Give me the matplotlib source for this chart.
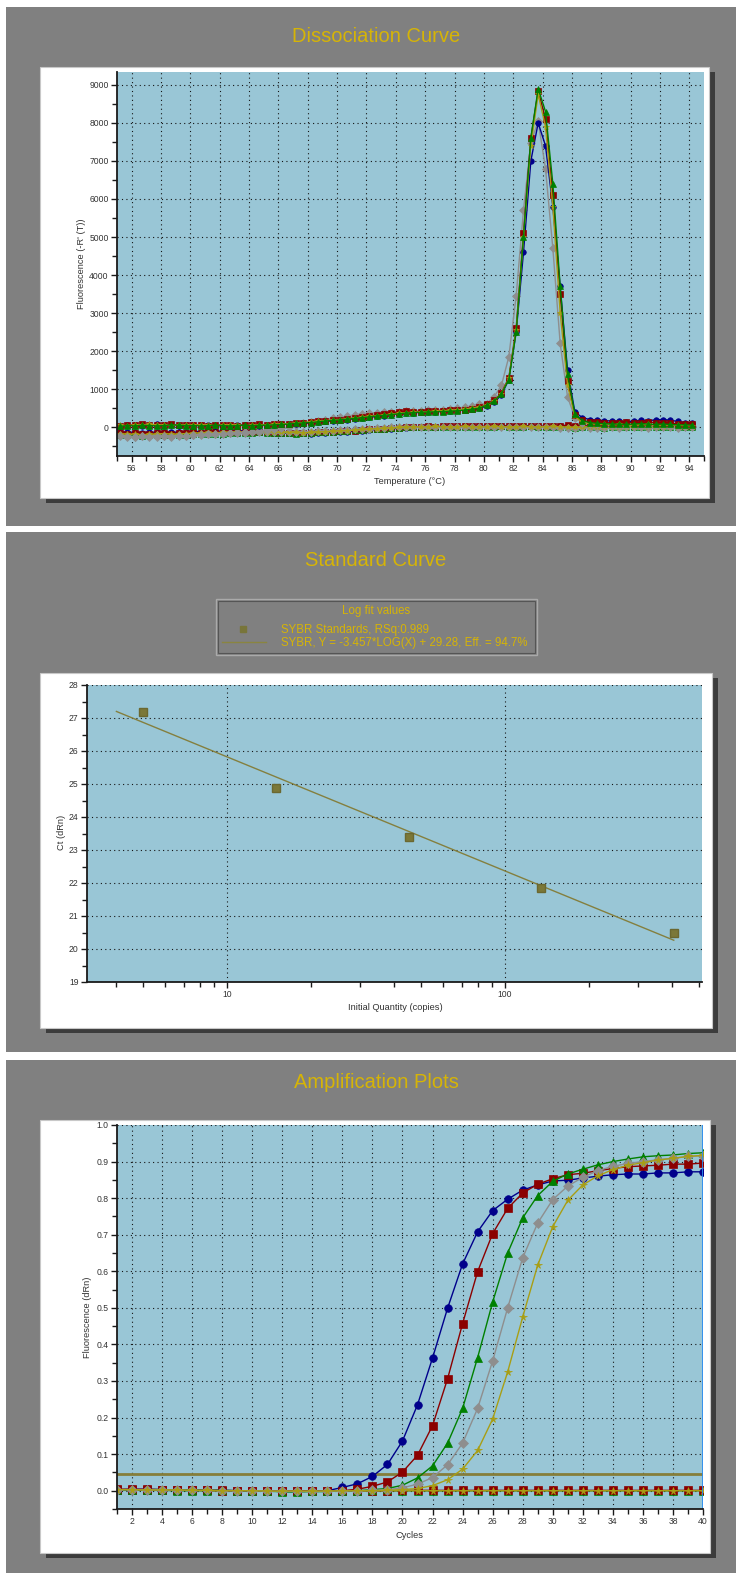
import numpy as np
import matplotlib
matplotlib.use("Agg")
import matplotlib.pyplot as plt
from matplotlib.patches import Rectangle
from matplotlib.lines import Line2D
from matplotlib.ticker import MultipleLocator, FixedLocator, FixedFormatter, LogLocator, NullFormatter

plt.rcParams['font.family'] = ['Liberation Sans', 'DejaVu Sans']

# ---- melt curve data (-R'(T)), one reading every 0.5 degC from 55.2 ----
temperature = np.arange(55.2, 94.3, 0.5)

melt_blue = [30, 50, 60, 40, 50, 70, 60, 50, 40, 50,
             50, 60, 50, 40, 30, 40, 50, 60, 50, 40,
             50, 60, 70, 80, 90, 100, 110, 130, 150, 170,
             190, 200, 220, 240, 260, 280, 300, 330, 350, 370,
             380, 390, 400, 410, 420, 430, 440, 450, 470, 500,
             550, 650, 850, 1250, 2500, 4600, 7000, 8000, 7400, 5800,
             3700, 1500, 400, 250, 200,
             180, 170, 160, 150, 140, 160, 180, 170, 190, 200, 180, 150, 120, 100]
melt_red = [40, 60, 50, 70, 60, 50, 60, 70, 50, 60,
            60, 50, 40, 50, 60, 50, 40, 50, 60, 70,
            60, 70, 80, 90, 100, 110, 130, 150, 160, 180,
            200, 220, 240, 260, 290, 320, 350, 380, 400, 420,
            400, 410, 420, 430, 430, 440, 450, 460, 480, 520,
            600, 700, 900, 1300, 2600, 5100, 7600, 8850, 8100, 6100,
            3500, 1200, 320, 180, 140,
            130, 120, 110, 120, 130, 110, 120, 130, 120, 110, 100, 90, 80, 70]
melt_green = [20, 40, 30, 50, 40, 30, 40, 60, 50, 40,
              40, 30, 40, 50, 40, 30, 40, 50, 40, 50,
              50, 60, 70, 80, 100, 110, 120, 140, 160, 180,
              190, 210, 230, 250, 270, 290, 310, 330, 350, 370,
              380, 390, 400, 400, 410, 420, 430, 450, 470, 500,
              580, 680, 880, 1250, 2500, 5000, 7600, 8900, 8300, 6400,
              3700, 1400, 350, 170, 120,
              100, 90, 80, 80, 70, 80, 90, 80, 70, 80, 70, 60, 60, 50]
melt_gray = [-230, -250, -260, -240, -250, -260, -240, -250, -230, -240,
             -220, -200, -190, -180, -170, -160, -150, -140, -120, -100,
             -80, -60, -30, 0, 50, 100, 130, 160, 200, 230,
             260, 290, 320, 350, 370, 380, 390, 400, 410, 420,
             420, 430, 440, 450, 460, 480, 500, 520, 560, 600,
             620, 800, 1100, 1850, 3450, 5700, 7480, 8050, 6800, 4700,
             2200, 800, 250, 120, 80,
             70, 60, 60, 50, 60, 50, 40, 50, 60, 50, 40, 40, 30, 30]
melt_yellow = [50, 40, 60, 50, 70, 60, 50, 40, 60, 50,
               50, 60, 50, 40, 50, 60, 50, 40, 50, 60,
               60, 70, 80, 90, 110, 120, 140, 150, 170, 190,
               200, 220, 240, 260, 280, 300, 320, 340, 360, 380,
               390, 400, 410, 420, 430, 440, 450, 470, 490, 520,
               580, 690, 880, 1280, 2550, 5000, 7400, 8750, 7900, 5800,
               3000, 1100, 280, 130, 90,
               80, 70, 60, 70, 60, 50, 60, 70, 60, 50, 60, 50, 40, 40]

# no-template wells, flat
blank_blue = [-120, -140, -130, -150, -140, -130, -120, -140, -130, -120,
              -110, -120, -110, -100, -110, -100, -90, -100, -110, -100,
              -110, -120, -130, -140, -150, -160, -170, -160, -150, -140,
              -130, -120, -110, -100, -80, -60, -50, -40, -30, -20,
              -10, 0, 10, 0, 10, 20, 10, 20, 10, 20,
              10, 20, 30, 20, 10, 20, 30, 20, 10, 20,
              30, 20, 10, 0, -10, 0, 10, 20, 10, 0,
              10, 20, 10, 0, 10, 20, 10, 0, 10]
blank_red = [-150, -170, -160, -180, -170, -160, -150, -170, -160, -150,
             -140, -150, -140, -130, -140, -130, -120, -130, -140, -130,
             -140, -150, -150, -160, -150, -160, -150, -140, -130, -120,
             -110, -100, -90, -80, -60, -50, -40, -30, -20, -10,
             0, 10, 20, 10, 20, 30, 20, 30, 20, 30,
             20, 30, 40, 30, 20, 30, 40, 30, 20, 30,
             40, 50, 40, 30, 40, 50, 60, 50, 40, 50,
             60, 50, 40, 50, 60, 50, 40, 30, 40]
blank_green = [-200, -220, -210, -230, -220, -210, -200, -220, -210, -200,
               -190, -180, -170, -180, -170, -160, -150, -160, -150, -140,
               -150, -160, -150, -160, -170, -160, -150, -140, -130, -120,
               -100, -90, -80, -70, -60, -50, -40, -30, -20, -10,
               0, -10, 0, 10, 0, 10, 0, 10, 0, 10,
               0, 10, 20, 10, 0, 10, 20, 10, 0, 10,
               0, -10, -20, -10, 0, -10, -20, -10, 0, -10,
               0, 10, 0, -10, 0, 10, 0, -10, 0]
blank_gray = [-210, -230, -250, -240, -230, -220, -240, -230, -220, -240,
              -200, -190, -180, -170, -160, -150, -140, -150, -140, -130,
              -140, -130, -120, -130, -140, -130, -120, -110, -100, -90,
              -80, -70, -60, -50, -40, -30, -20, -10, 0, 10,
              0, 10, 0, -10, 0, 10, 0, -10, 0, 10,
              0, -10, 0, 10, 0, -10, 0, 10, 0, -10,
              -20, -30, -20, -10, -20, -30, -20, -10, -20, -10,
              0, -10, -20, -10, 0, -10, -20, -10, 0]
blank_yellow = [-170, -190, -180, -200, -190, -180, -170, -190, -180, -170,
                -160, -150, -140, -150, -140, -130, -120, -130, -120, -110,
                -120, -130, -140, -130, -140, -150, -140, -130, -120, -110,
                -100, -90, -80, -60, -50, -40, -30, -20, -10, 0,
                10, 0, 10, 20, 10, 0, 10, 20, 10, 0,
                10, 20, 10, 0, 10, 20, 10, 0, 10, 20,
                10, 0, -10, 0, 10, 0, -10, 0, 10, 0,
                -10, 0, 10, 0, -10, 0, 10, 0, -10]

# ---- standard curve ----
quantity = [5, 15, 45, 135, 405]
ct_values = [27.19, 24.89, 23.40, 21.84, 20.49]
fit_slope = -3.457
fit_intercept = 29.28
fit_range = [4, 405]
legend_title = "Log fit values"
legend_points = "SYBR Standards, RSq:0.989"
legend_fit = "SYBR, Y = -3.457*LOG(X) + 29.28, Eff. = 94.7%"

# ---- amplification (dRn per cycle) ----
cycles = np.arange(1, 41)
amp_blue = [0.003, 0.004, 0.004, 0.003, 0.002, 0.002, 0.001, 0.001, 0.000, 0.000,
            -0.001, -0.002, -0.002, -0.001, 0.000, 0.009, 0.019, 0.039, 0.072, 0.136,
            0.235, 0.363, 0.499, 0.620, 0.708, 0.766, 0.797, 0.822, 0.836, 0.847,
            0.849, 0.855, 0.860, 0.864, 0.866, 0.866, 0.869, 0.869, 0.872, 0.872]
amp_red = [0.004, 0.004, 0.004, 0.003, 0.002, 0.002, 0.001, 0.001, 0.000, 0.000,
           0.000, -0.001, -0.001, -0.001, -0.001, 0.000, 0.004, 0.012, 0.024, 0.051,
           0.097, 0.178, 0.306, 0.457, 0.599, 0.703, 0.772, 0.814, 0.838, 0.853,
           0.864, 0.868, 0.875, 0.881, 0.886, 0.888, 0.890, 0.893, 0.893, 0.896]
amp_green = [0.002, 0.002, 0.003, 0.003, 0.002, 0.002, 0.001, 0.001, 0.000, 0.000,
             -0.001, -0.003, -0.003, -0.002, -0.002, -0.001, 0.000, 0.003, 0.006, 0.015,
             0.035, 0.068, 0.130, 0.225, 0.364, 0.516, 0.650, 0.746, 0.807, 0.846,
             0.866, 0.879, 0.891, 0.900, 0.907, 0.913, 0.916, 0.918, 0.922, 0.924]
amp_gray = [0.002, 0.003, 0.003, 0.002, 0.002, 0.001, 0.001, 0.000, 0.000, 0.000,
            -0.001, -0.001, -0.002, -0.002, -0.001, -0.001, 0.000, 0.001, 0.003, 0.008,
            0.018, 0.036, 0.071, 0.130, 0.225, 0.355, 0.500, 0.637, 0.732, 0.796,
            0.833, 0.857, 0.875, 0.887, 0.895, 0.900, 0.905, 0.909, 0.914, 0.916]
amp_yellow = [0.003, 0.003, 0.002, 0.002, 0.002, 0.001, 0.001, 0.000, 0.000, 0.000,
              -0.001, -0.001, -0.001, -0.001, -0.001, 0.000, 0.000, 0.000, 0.001, 0.003,
              0.006, 0.014, 0.030, 0.059, 0.110, 0.196, 0.325, 0.475, 0.617, 0.722,
              0.794, 0.836, 0.861, 0.878, 0.890, 0.897, 0.904, 0.909, 0.914, 0.917]
ntc_red = [0.003, 0.002, 0.002, 0.002, 0.001, 0.001, 0.001, 0.000, 0.000, 0.000,
           0.000, -0.001, -0.001, -0.001, -0.001, -0.001, 0.000, 0.000, 0.000, 0.001,
           0.001, 0.001, 0.001, 0.001, 0.001, 0.001, 0.001, 0.001, 0.001, 0.001,
           0.001, 0.001, 0.001, 0.001, 0.001, 0.001, 0.001, 0.001, 0.001, 0.001]
ntc_green = [0.001, 0.001, 0.001, 0.001, 0.000, 0.000, 0.000, 0.000, 0.000, -0.001,
             -0.001, -0.002, -0.002, -0.002, -0.002, -0.001, -0.001, 0.000, 0.000, 0.000,
             0.000, 0.000, 0.000, 0.000, 0.000, 0.000, 0.000, 0.000, 0.000, 0.000,
             0.000, 0.000, 0.000, 0.000, 0.000, 0.000, 0.000, 0.000, 0.000, 0.000]
ntc_yellow = [0.002, 0.002, 0.001, 0.001, 0.001, 0.001, 0.000, 0.000, 0.000, 0.000,
              0.000, 0.000, -0.001, -0.001, 0.000, 0.000, 0.000, 0.000, 0.000, 0.000,
              0.000, 0.000, 0.000, 0.000, 0.000, 0.000, 0.000, 0.000, 0.000, 0.000,
              0.000, 0.000, 0.000, 0.000, 0.000, 0.000, 0.000, 0.000, 0.000, 0.000]
threshold = 0.046

# ---- colours ----
PANEL = '#808080'
SHADOW = '#3c3c3c'
PLOT_BG = '#99c6d6'
TITLE_COL = '#d6b406'
TEXT_COL = '#333333'
C_BLUE, C_RED, C_GREEN, C_GRAY, C_YEL = '#00008b', '#8b0000', '#008000', '#8e8e8e', '#a89e14'

W, H = 736, 1573
fig = plt.figure(figsize=(W / 100, H / 100), dpi=100)
fig.patch.set_facecolor('white')


def box(x0, y0, x1, y1):
    # pixel box measured from the top-left -> figure fraction rect
    return [x0 / W, 1 - y1 / H, (x1 - x0) / W, (y1 - y0) / H]


def rect(x0, y0, x1, y1, z=-10, **kw):
    l, b, w, h = box(x0, y0, x1, y1)
    fig.add_artist(Rectangle((l, b), w, h, transform=fig.transFigure, zorder=z, **kw))


def ftext(x, y, s, **kw):
    fig.text(x / W, 1 - y / H, s, **kw)


def panel(y0, y1, title, title_y, card):
    rect(6, y0, W, y1, facecolor=PANEL, edgecolor='none')
    cx0, cy0, cx1, cy1 = card
    rect(cx0 + 6, cy0 + 5, cx1 + 6, cy1 + 5, facecolor=SHADOW, edgecolor='none')
    rect(cx0, cy0, cx1, cy1, facecolor='white', edgecolor='#c8c8c8', linewidth=0.8)
    ftext(376, title_y, title, color=TITLE_COL, fontsize=14.5, ha='center', va='center')


def style_axes(ax):
    ax.set_facecolor(PLOT_BG)
    ax.set_axisbelow(True)
    for s in ('top', 'right'):
        ax.spines[s].set_visible(False)
    for s in ('left', 'bottom'):
        ax.spines[s].set_color('#1a1a1a')
        ax.spines[s].set_linewidth(1.3)
    ax.tick_params(which='both', direction='out', color='#1a1a1a', width=1,
                   labelsize=6.2, labelcolor=TEXT_COL, pad=2)
    ax.tick_params(which='major', length=4)
    ax.tick_params(which='minor', length=3.5)
    ax.grid(True, which='major', color='#151515', linestyle=(0, (1, 3)), linewidth=0.8)


panel(7, 526, 'Dissociation Curve', 36, (40, 67, 709, 498))
panel(532, 1052, 'Standard Curve', 561, (40, 673, 712, 1028))
panel(1060, H, 'Amplification Plots', 1083, (40, 1120, 710, 1553))

# ---- dissociation curve ----
ax1 = fig.add_axes(box(117, 72, 704, 456))
style_axes(ax1)
blanks = [(blank_blue, C_BLUE, 'o'), (blank_red, C_RED, 's'), (blank_green, C_GREEN, '^'),
          (blank_gray, C_GRAY, 'D'), (blank_yellow, C_YEL, '*')]
melts = [(melt_gray, C_GRAY, 'D'), (melt_blue, C_BLUE, 'o'), (melt_red, C_RED, 's'),
         (melt_yellow, C_YEL, '*'), (melt_green, C_GREEN, '^')]
for vals, col, mk in blanks + melts:
    ax1.plot(temperature, vals, color=col, marker=mk, markersize=4, linewidth=1,
             markeredgewidth=0.5)
ax1.set_xlim(55, 95)
ax1.set_ylim(-760, 9340)
ax1.xaxis.set_major_locator(FixedLocator(np.arange(56, 95, 2)))
ax1.xaxis.set_minor_locator(MultipleLocator(1))
ax1.yaxis.set_major_locator(FixedLocator(np.arange(0, 9001, 1000)))
ax1.yaxis.set_minor_locator(MultipleLocator(500))
ftext(82, 264, "Fluorescence (-R' (T))", rotation=90, fontsize=6.7, color=TEXT_COL,
      ha='center', va='center')
ftext(410, 482, 'Temperature (\u00b0C)', fontsize=6.7, color=TEXT_COL, ha='center', va='center')

# ---- standard curve ----
ax2 = fig.add_axes(box(87, 685, 702, 982))
style_axes(ax2)
ax2.set_xscale('log')
fit_x = np.array(fit_range, dtype=float)
ax2.plot(fit_x, fit_slope * np.log10(fit_x) + fit_intercept, color='#847f3e', linewidth=1)
ax2.plot(quantity, ct_values, linestyle='none', marker='s', markersize=5.5,
         color='#7b7838', markeredgecolor='#6b6830')
ax2.set_xlim(3.135, 511.7)
ax2.set_ylim(19, 28)
ax2.xaxis.set_major_locator(FixedLocator([10, 100]))
ax2.xaxis.set_major_formatter(FixedFormatter(['10', '100']))
ax2.xaxis.set_minor_locator(LogLocator(base=10, subs=np.arange(2, 10)))
ax2.xaxis.set_minor_formatter(NullFormatter())
ax2.yaxis.set_major_locator(MultipleLocator(1))
ax2.yaxis.set_minor_locator(MultipleLocator(0.5))
ftext(62, 832, 'Ct (dRn)', rotation=90, fontsize=6.7, color=TEXT_COL, ha='center', va='center')
ftext(395, 1008, 'Initial Quantity (copies)', fontsize=6.7, color=TEXT_COL,
      ha='center', va='center')

# legend box above the standard curve
rect(216, 599, 537, 655, facecolor=PANEL, edgecolor='#aaaaaa', linewidth=1, z=-5)
rect(218, 601, 535, 653, facecolor='none', edgecolor='#555555', linewidth=0.8, z=-4)
ftext(376, 611, legend_title, color=TITLE_COL, fontsize=8.3, ha='center', va='center')
fig.add_artist(Line2D([243 / W], [1 - 629 / H], marker='s', markersize=4.5, color='#78753a',
                      transform=fig.transFigure))
fig.add_artist(Line2D([222 / W, 266 / W], [1 - 642 / H, 1 - 642 / H], color='#8a8540',
                      linewidth=1, transform=fig.transFigure))
ftext(281, 630, legend_points, color=TITLE_COL, fontsize=8.3, ha='left', va='center')
ftext(281, 643, legend_fit, color=TITLE_COL, fontsize=8.3, ha='left', va='center')

# ---- amplification plots ----
ax3 = fig.add_axes(box(117, 1125, 703, 1509))
style_axes(ax3)
ax3.axhline(threshold, color='#857e3a', linewidth=2)
for vals, col, mk in [(ntc_green, C_GREEN, '^'), (ntc_red, C_RED, 's'), (ntc_yellow, C_YEL, '*')]:
    ax3.plot(cycles, vals, color=col, marker=mk, markersize=5.5, linewidth=1, markeredgewidth=0.5)
for vals, col, mk in [(amp_blue, '#00008b', 'o'), (amp_red, C_RED, 's'), (amp_green, C_GREEN, '^'),
                      (amp_gray, C_GRAY, 'D'), (amp_yellow, C_YEL, '*')]:
    ax3.plot(cycles, vals, color=col, marker=mk, markersize=5.5, linewidth=1, markeredgewidth=0.5)
ax3.axvline(40, color='#2a8cf0', linewidth=2)
ax3.set_xlim(1, 40)
ax3.set_ylim(-0.05, 1.0)
ax3.xaxis.set_major_locator(FixedLocator(np.arange(2, 41, 2)))
ax3.xaxis.set_minor_locator(MultipleLocator(1))
ax3.yaxis.set_major_locator(FixedLocator(np.round(np.arange(0, 1.01, 0.1), 1)))
ax3.yaxis.set_major_formatter(plt.FormatStrFormatter('%.1f'))
ax3.yaxis.set_minor_locator(MultipleLocator(0.05))
ftext(87, 1317, 'Fluorescence (dRn)', rotation=90, fontsize=6.7, color=TEXT_COL,
      ha='center', va='center')
ftext(410, 1535, 'Cycles', fontsize=6.7, color=TEXT_COL, ha='center', va='center')

fig.savefig('out.png', dpi=100, facecolor='white')
